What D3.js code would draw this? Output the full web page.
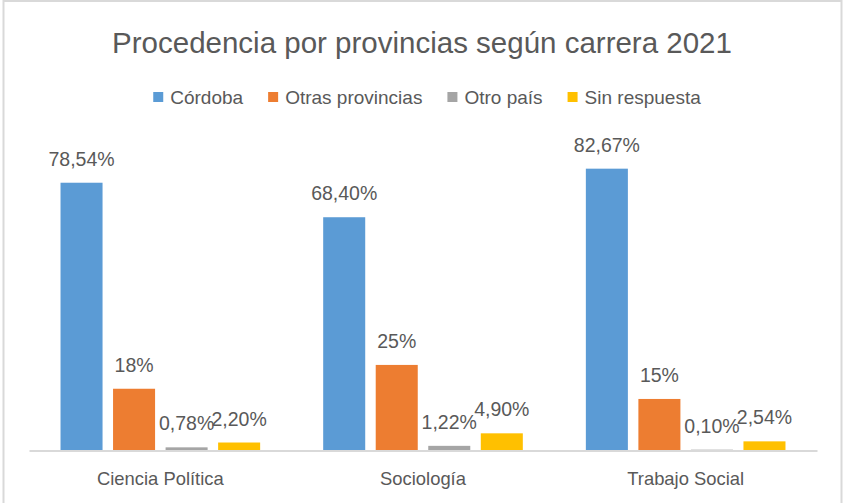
<!DOCTYPE html>
<html>
<head>
<meta charset="utf-8">
<script src="https://cdn.jsdelivr.net/npm/d3@7"></script>
<style>
  body { margin: 0; background: #fff; }
  svg text { font-family: "Liberation Sans", Arial, sans-serif; fill: #595959; }
</style>
</head>
<body>
<div id="chart"></div>
<script>
var carreras = ["Ciencia Política", "Sociología", "Trabajo Social"];
var series = ["Córdoba", "Otras provincias", "Otro país", "Sin respuesta"];
var cordoba = [78.54, 68.40, 82.67];
var otrasProvincias = [18, 25, 15];
var otroPais = [0.78, 1.22, 0.10];
var sinRespuesta = [2.20, 4.90, 2.54];
var colores = ["#5B9BD5", "#ED7D31", "#A5A5A5", "#FFC000"];

var valores = [cordoba, otrasProvincias, otroPais, sinRespuesta];

var width = 844, height = 503;
var baseY = 450;

var es = d3.formatLocale({decimal: ",", thousands: ".", grouping: [3], currency: ["", "€"]});
var fmt2 = es.format(".2f");
function etiqueta(v) {
	return (Number.isInteger(v) ? v : fmt2(v)) + "%";
}

var svg = d3.select("#chart")
	.append("svg")
	.attr("width", width)
	.attr("height", height);

// marco del grafico
svg.append("rect")
	.attr("x", 3.5).attr("y", 1)
	.attr("width", 838).attr("height", 520)
	.attr("fill", "none")
	.attr("stroke", "#d9d9d9")
	.attr("stroke-width", 2);

svg.append("text")
	.attr("x", 422).attr("y", 53)
	.attr("text-anchor", "middle")
	.style("font-size", "29.5px")
	.text("Procedencia por provincias según carrera 2021");

var x0 = d3.scaleBand().domain(carreras).range([29, 817]).padding(0);
var x1 = d3.scaleBand().domain(series).range([0, x0.bandwidth()])
	.paddingInner(0.2).paddingOuter(0.6);
var y = d3.scaleLinear().domain([0, 90]).range([baseY, baseY - 90 * 3.403]);

var filas = [];
carreras.forEach(function(c, i) {
	series.forEach(function(s, j) {
		filas.push({carrera: c, serie: s, valor: valores[j][i], color: colores[j]});
	});
});

svg.selectAll("rect.bar")
	.data(filas)
	.enter()
	.append("rect")
	.attr("class", "bar")
	.attr("x", function(d) { return x0(d.carrera) + x1(d.serie); })
	.attr("y", function(d) { return y(d.valor); })
	.attr("width", x1.bandwidth())
	.attr("height", function(d) { return baseY - y(d.valor); })
	.attr("fill", function(d) { return d.color; });

svg.selectAll("text.lbl")
	.data(filas)
	.enter()
	.append("text")
	.attr("class", "lbl")
	.attr("x", function(d) { return x0(d.carrera) + x1(d.serie) + x1.bandwidth() / 2; })
	.attr("y", function(d) { return y(d.valor) - 17; })
	.attr("text-anchor", "middle")
	.style("font-size", "19.5px")
	.text(function(d) { return etiqueta(d.valor); });

// eje x
var eje = svg.append("g")
	.attr("transform", "translate(0," + (baseY + 0.5) + ")")
	.call(d3.axisBottom(x0).tickSize(0).tickPadding(0));
eje.select(".domain").attr("stroke", "#d9d9d9").attr("stroke-width", 2);
eje.selectAll(".tick text")
	.attr("dy", null)
	.attr("y", 34)
	.style("font-size", "18.4px")
	.style("font-family", "'Liberation Sans', Arial, sans-serif")
	.attr("fill", "#595959");

// leyenda
var ley = svg.append("g");
var pos = 0;
series.forEach(function(s, j) {
	var item = ley.append("g").attr("transform", "translate(" + pos + ",0)");
	item.append("rect").attr("x", 0).attr("y", 92).attr("width", 10).attr("height", 10)
		.attr("fill", colores[j]);
	var t = item.append("text").attr("x", 17).attr("y", 103.5)
		.style("font-size", "19px").text(s);
	pos += 17 + t.node().getComputedTextLength() + 25;
});
var total = pos - 25;
ley.attr("transform", "translate(" + (427 - total / 2) + ",0)");
</script>
</body>
</html>
